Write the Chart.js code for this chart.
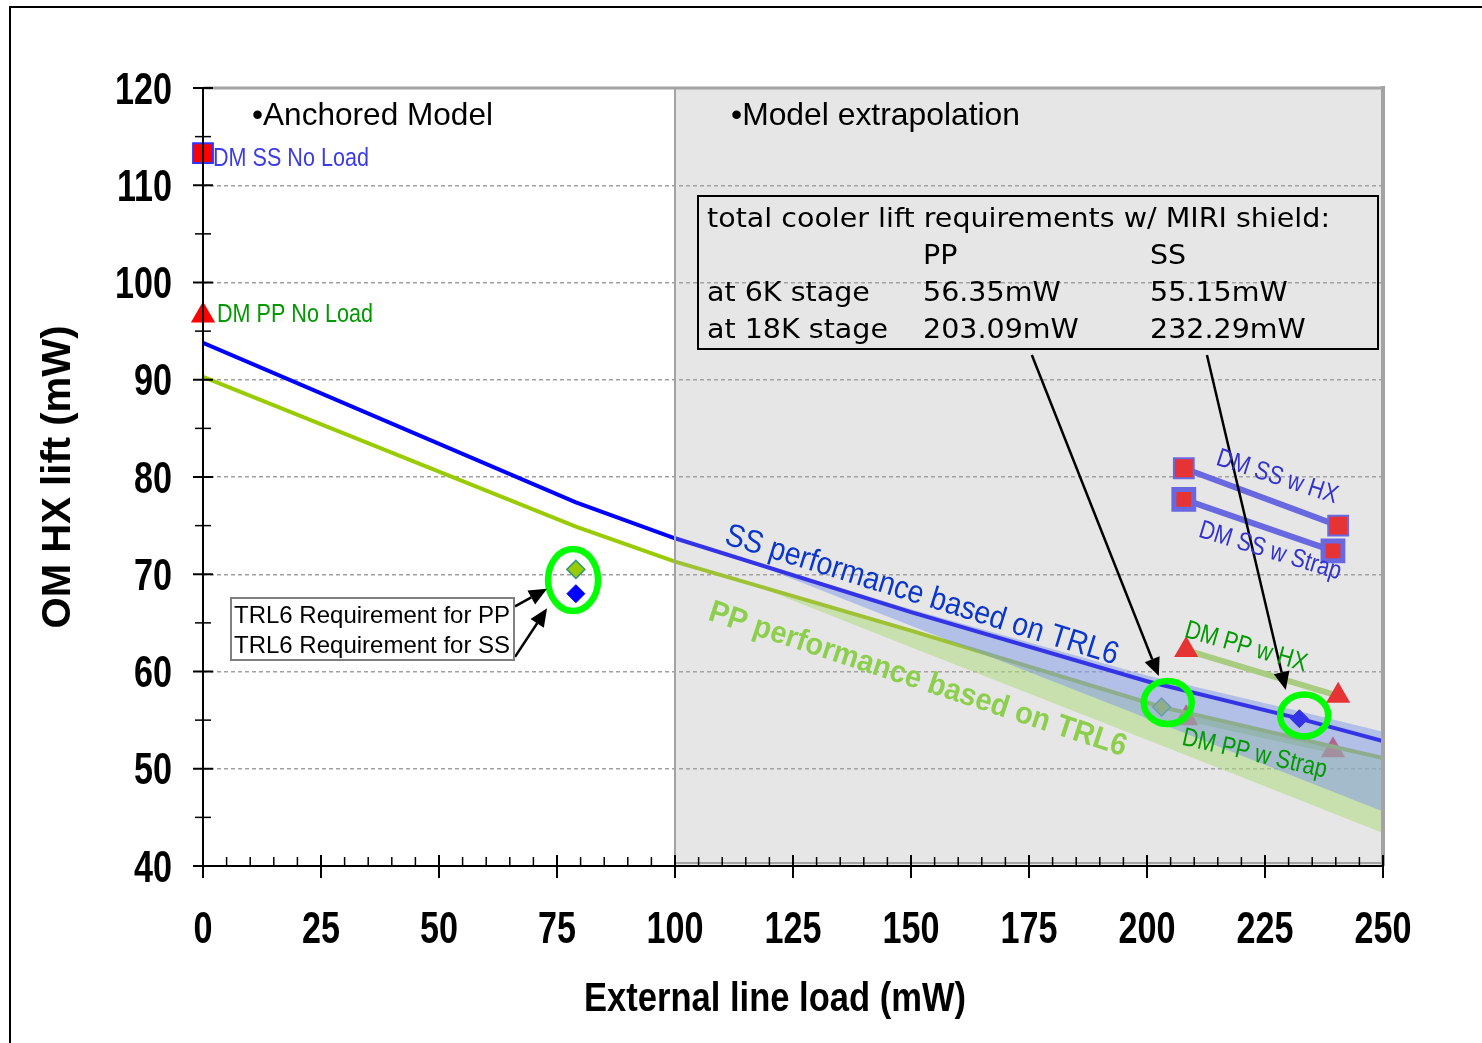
<!DOCTYPE html>
<html><head><meta charset="utf-8">
<script src="https://cdn.jsdelivr.net/npm/chart.js@4.4.1/dist/chart.umd.min.js"></script>
<style>html,body{margin:0;padding:0;background:#fff;overflow:hidden}canvas{display:block}</style>
</head><body>
<canvas id="c" width="1482" height="1043"></canvas>
<script>
// ---------- data ----------
const xTickLabels = ['0','25','50','75','100','125','150','175','200','225','250'];
const yTickLabels = ['40','50','60','70','80','90','100','110','120'];

const ssModelX = [0, 79, 100, 150, 200, 232.29, 250];
const ssModelY = [93.8, 77.4, 73.7, 66.1, 59.0, 55.15, 52.85];
const ppModelX = [0, 79, 100, 150, 203.09, 250];
const ppModelY = [90.3, 74.9, 71.3, 64.2, 56.35, 51.1];

const ssBandX = [113, 150, 200, 232.29, 250];
const ssBandUpper = [71.8, 66.4, 59.6, 55.9, 53.8];
const ssBandLower = [71.8, 64.7, 55.2, 49.0, 45.6];
const ppBandX = [114, 150, 203.09, 250];
const ppBandUpper = [69.4, 64.2, 56.35, 51.1];
const ppBandLower = [69.4, 62.5, 52.4, 43.4];

const reqPpX = [79, 203.09];
const reqPpY = [70.5, 56.35];
const reqSsX = [79, 232.29];
const reqSsY = [68.0, 55.15];

const dmSsNoLoadX = [0];
const dmSsNoLoadY = [113.3];
const dmPpNoLoadX = [0];
const dmPpNoLoadY = [96.6];

const dmSsHxX = [207.8, 240.5];
const dmSsHxY = [80.9, 75.0];
const dmSsStrapX = [207.8, 239.4];
const dmSsStrapY = [77.7, 72.4];
const dmPpHxX = [208.3, 240.5];
const dmPpHxY = [62.2, 57.5];
const dmPpStrapX = [208.3, 239.4];
const dmPpStrapY = [55.2, 51.9];

const pts = (xs, ys) => xs.map((x, i) => ({x, y: ys[i]}));

// ---------- helpers ----------
const SANS = '"Liberation Sans", Arial, sans-serif';
function fitScale(ctx, s, font, w) {
  ctx.save(); ctx.font = font; const m = ctx.measureText(s).width; ctx.restore(); return w / m;
}
function txt(ctx, s, x, y, o) {
  ctx.save();
  ctx.translate(x, y);
  if (o.rot) ctx.rotate(o.rot);
  ctx.scale(o.sx || 1, 1);
  ctx.font = o.font; ctx.fillStyle = o.color || '#000';
  ctx.textAlign = o.align || 'left'; ctx.textBaseline = o.baseline || 'alphabetic';
  ctx.fillText(s, 0, 0);
  ctx.restore();
}

const deco = {
  id: 'deco',
  afterDatasetsDraw(chart) {
    const ctx = chart.ctx, xs = chart.scales.x, ys = chart.scales.y, a = chart.chartArea;
    const X = v => xs.getPixelForValue(v), Y = v => ys.getPixelForValue(v);
    ctx.save();
    // extrapolation region overlay
    ctx.fillStyle = 'rgba(171,171,171,0.3)';
    ctx.fillRect(X(100), a.top, X(250) - X(100), a.bottom - a.top);
    ctx.strokeStyle = '#a3a3a3';
    ctx.lineWidth = 2;
    ctx.beginPath(); ctx.moveTo(X(100), a.top); ctx.lineTo(X(100), a.bottom); ctx.stroke();
    ctx.beginPath(); ctx.moveTo(X(100), a.bottom - 3); ctx.lineTo(X(250), a.bottom - 3); ctx.stroke();
    // plot border top/right
    ctx.lineWidth = 3;
    ctx.beginPath(); ctx.moveTo(a.left, a.top); ctx.lineTo(a.right, a.top); ctx.stroke();
    ctx.lineWidth = 4;
    ctx.beginPath(); ctx.moveTo(a.right, a.top - 2); ctx.lineTo(a.right, a.bottom); ctx.stroke();

    // axes
    ctx.strokeStyle = '#000';
    ctx.lineWidth = 2;
    ctx.beginPath(); ctx.moveTo(a.left, a.top); ctx.lineTo(a.left, a.bottom + 12); ctx.stroke();
    ctx.beginPath(); ctx.moveTo(a.left - 10, a.bottom); ctx.lineTo(a.right, a.bottom); ctx.stroke();
    // y ticks
    ys.ticks.forEach((t, i) => {
      const y = Y(t.value);
      ctx.lineWidth = 2;
      ctx.beginPath(); ctx.moveTo(a.left - 10, y); ctx.lineTo(a.left + 10, y); ctx.stroke();
      if (i < ys.ticks.length - 1) {
        const ym = Y(t.value + 5);
        ctx.lineWidth = 1.5;
        ctx.beginPath(); ctx.moveTo(a.left - 8, ym); ctx.lineTo(a.left + 8, ym); ctx.stroke();
      }
    });
    // x ticks
    xs.ticks.forEach((t, i) => {
      const x = X(t.value);
      ctx.lineWidth = 2;
      ctx.beginPath(); ctx.moveTo(x, a.bottom - 11); ctx.lineTo(x, a.bottom + 12); ctx.stroke();
      if (i < xs.ticks.length - 1) {
        for (let k = 1; k < 5; k++) {
          const xm = X(t.value + 5 * k);
          ctx.lineWidth = 1.5;
          ctx.beginPath(); ctx.moveTo(xm, a.bottom - 9); ctx.lineTo(xm, a.bottom); ctx.stroke();
        }
      }
    });
    // tick labels
    const tf = 'bold 44px ' + SANS;
    const tsx = fitScale(ctx, '120', tf, 57);
    ys.ticks.forEach((t, i) => txt(ctx, yTickLabels[i], a.left - 31, Y(t.value) + 15.5, {font: tf, sx: tsx, align: 'right'}));
    xs.ticks.forEach((t, i) => txt(ctx, xTickLabels[i], X(t.value), a.bottom + 77, {font: tf, sx: tsx, align: 'center'}));
    // axis titles
    const xf = 'bold 40px ' + SANS;
    txt(ctx, 'External line load (mW)', 775, 1011, {font: xf, sx: fitScale(ctx, 'External line load (mW)', xf, 382), align: 'center'});
    const yf = 'bold 40px ' + SANS;
    txt(ctx, 'OM HX lift (mW)', 70, (a.top + a.bottom) / 2, {font: yf, sx: fitScale(ctx, 'OM HX lift (mW)', yf, 303), align: 'center', rot: -Math.PI / 2});

    // outer frame
    ctx.lineWidth = 2; ctx.strokeStyle = '#000';
    ctx.beginPath(); ctx.moveTo(10, 1043); ctx.lineTo(10, 7); ctx.lineTo(1482, 7); ctx.stroke();

    // region headings
    const hf = '32px ' + SANS;
    txt(ctx, '\u2022Anchored Model', 252, 125, {font: hf, sx: fitScale(ctx, '\u2022Anchored Model', hf, 241)});
    txt(ctx, '\u2022Model extrapolation', 731, 125, {font: hf, sx: fitScale(ctx, '\u2022Model extrapolation', hf, 289)});

    // no-load labels
    const nf = '26px ' + SANS;
    const nsx = fitScale(ctx, 'DM SS No Load', nf, 156);
    txt(ctx, 'DM SS No Load', 213, 166, {font: nf, sx: nsx, color: '#3c3ce6'});
    txt(ctx, 'DM PP No Load', 217, 322, {font: nf, sx: nsx, color: '#009a00'});

    // green highlight ellipses
    ctx.strokeStyle = '#00ff00'; ctx.lineWidth = 6.5;
    [[78.4, 69.41, 25, 31], [204.4, 56.81, 24, 21.5], [233.3, 55.48, 24, 21]].forEach(e => {
      ctx.beginPath(); ctx.ellipse(X(e[0]), Y(e[1]), e[2], e[3], 0, 0, Math.PI * 2); ctx.stroke();
    });

    // arrows
    function arrow(x1, y1, x2, y2) {
      const ang = Math.atan2(y2 - y1, x2 - x1), L = 18, W = 8;
      const bx = x2 - L * Math.cos(ang), by = y2 - L * Math.sin(ang);
      ctx.strokeStyle = '#000'; ctx.fillStyle = '#000'; ctx.lineWidth = 2.5;
      ctx.beginPath(); ctx.moveTo(x1, y1); ctx.lineTo(bx, by); ctx.stroke();
      ctx.beginPath(); ctx.moveTo(x2, y2);
      ctx.lineTo(bx + W * Math.sin(ang), by - W * Math.cos(ang));
      ctx.lineTo(bx - W * Math.sin(ang), by + W * Math.cos(ang));
      ctx.closePath(); ctx.fill();
    }
    arrow(X(175.6), Y(92.55), X(202.5), Y(59.54));
    arrow(X(212.7), Y(92.55), X(229.4), Y(58.1));
    arrow(X(66.1), Y(66.7), X(72.9), Y(68.5));
    arrow(X(66.1), Y(61.5), X(72.9), Y(66.5));

    // TRL6 requirement label box
    ctx.fillStyle = '#fff'; ctx.fillRect(231, 598, 283, 62);
    ctx.strokeStyle = '#808080'; ctx.lineWidth = 2; ctx.strokeRect(231, 598, 283, 62);
    const rf = '24px ' + SANS;
    txt(ctx, 'TRL6 Requirement for PP', 234, 623, {font: rf});
    txt(ctx, 'TRL6 Requirement for SS', 234, 653, {font: rf});

    // requirements table
    ctx.strokeStyle = '#000'; ctx.lineWidth = 2; ctx.strokeRect(698, 196, 680, 153);
    const bf = '27px "DejaVu Sans", Verdana, sans-serif';
    const bsx = fitScale(ctx, 'total cooler lift requirements w/ MIRI shield:', bf, 623);
    const rowsY = [227, 264, 301, 338];
    txt(ctx, 'total cooler lift requirements w/ MIRI shield:', 707, rowsY[0], {font: bf, sx: bsx});
    txt(ctx, 'PP', 923, rowsY[1], {font: bf, sx: bsx});
    txt(ctx, 'SS', 1150, rowsY[1], {font: bf, sx: bsx});
    txt(ctx, 'at 6K stage', 707, rowsY[2], {font: bf, sx: bsx});
    txt(ctx, '56.35mW', 923, rowsY[2], {font: bf, sx: bsx});
    txt(ctx, '55.15mW', 1150, rowsY[2], {font: bf, sx: bsx});
    txt(ctx, 'at 18K stage', 707, rowsY[3], {font: bf, sx: bsx});
    txt(ctx, '203.09mW', 923, rowsY[3], {font: bf, sx: bsx});
    txt(ctx, '232.29mW', 1150, rowsY[3], {font: bf, sx: bsx});

    // rotated performance labels
    const sf = '32px ' + SANS;
    txt(ctx, 'SS performance based on TRL6', 919, 604, {font: sf, sx: fitScale(ctx, 'SS performance based on TRL6', sf, 410), align: 'center', rot: 17.2 * Math.PI / 180, color: '#0a36cc'});
    const pf = 'bold 31px ' + SANS;
    txt(ctx, 'PP performance based on TRL6', 915, 688, {font: pf, sx: fitScale(ctx, 'PP performance based on TRL6', pf, 438), align: 'center', rot: 18.2 * Math.PI / 180, color: '#8ccf4d'});

    // DM labels
    const df = '26px ' + SANS;
    const dsx = fitScale(ctx, 'DM SS No Load', df, 156);
    txt(ctx, 'DM SS w HX', 1275, 484, {font: df, sx: dsx, align: 'center', rot: 18 * Math.PI / 180, color: '#3333cc'});
    txt(ctx, 'DM SS w Strap', 1268, 558, {font: df, sx: dsx, align: 'center', rot: 17 * Math.PI / 180, color: '#3333cc'});
    txt(ctx, 'DM PP w HX', 1244, 654, {font: df, sx: dsx, align: 'center', rot: 16 * Math.PI / 180, color: '#009a00'});
    txt(ctx, 'DM PP w Strap', 1253, 761, {font: df, sx: dsx, align: 'center', rot: 13 * Math.PI / 180, color: '#009a00'});
    ctx.restore();
  }
};

const line = (xs, ys, color, width, order, extra) => Object.assign({
  data: pts(xs, ys), showLine: true, borderColor: color, borderWidth: width,
  pointRadius: 0, pointHoverRadius: 0, fill: false, order, tension: 0
}, extra || {});

const datasets = [
  // DM PP w Strap (beneath bands)
  line(dmPpStrapX, dmPpStrapY, '#a7da6e', 6, 20, {pointRadius: 14, pointStyle: 'triangle', pointBackgroundColor: '#ff0000', pointBorderColor: '#ff0000', pointBorderWidth: 0}),
  // PP band lower (invisible)
  line(ppBandX, ppBandLower, 'rgba(0,0,0,0)', 0, 19),
  // PP band upper with fill to lower
  line(ppBandX, ppBandUpper, 'rgba(0,0,0,0)', 0, 18, {fill: {target: 1}, backgroundColor: 'rgba(169,235,95,0.5)'}),
  // PP model line
  line(ppModelX, ppModelY, '#99cc00', 4, 17),
  // PP requirement diamonds
  {data: pts(reqPpX, reqPpY), pointStyle: 'rectRot', pointRadius: 9, pointBackgroundColor: '#99cc00', pointBorderColor: '#339977', pointBorderWidth: 1.5, order: 16, showLine: false},
  // SS band lower
  line(ssBandX, ssBandLower, 'rgba(0,0,0,0)', 0, 15),
  // SS band upper
  line(ssBandX, ssBandUpper, 'rgba(0,0,0,0)', 0, 14, {fill: {target: 5}, backgroundColor: 'rgba(107,143,255,0.5)'}),
  // SS model line
  line(ssModelX, ssModelY, '#0000ff', 4, 13),
  // SS requirement diamonds
  {data: pts(reqSsX, reqSsY), pointStyle: 'rectRot', pointRadius: 9, pointBackgroundColor: '#0000ff', pointBorderColor: '#0000ff', pointBorderWidth: 1, order: 12, showLine: false},
  // DM PP w HX
  line(dmPpHxX, dmPpHxY, '#a7da6e', 6, 11, {pointRadius: 14, pointStyle: 'triangle', pointBackgroundColor: '#ff0000', pointBorderColor: '#ff0000', pointBorderWidth: 0}),
  // DM SS w Strap
  line(dmSsStrapX, dmSsStrapY, '#4b4bf6', 6, 10, {pointRadius: 14, pointStyle: 'rect', pointBackgroundColor: '#ff0000', pointBorderColor: '#4b4bf6', pointBorderWidth: 5}),
  // DM SS w HX
  line(dmSsHxX, dmSsHxY, '#4b4bf6', 6, 9, {pointRadius: 14, pointStyle: 'rect', pointBackgroundColor: '#ff0000', pointBorderColor: '#4b4bf6', pointBorderWidth: 2}),
  // DM SS No Load
  {data: pts(dmSsNoLoadX, dmSsNoLoadY), pointStyle: 'rect', pointRadius: 14, pointBackgroundColor: '#ff0000', pointBorderColor: '#3333ff', pointBorderWidth: 2, order: 8, showLine: false, clip: false},
  // DM PP No Load
  {data: pts(dmPpNoLoadX, dmPpNoLoadY), pointStyle: 'triangle', pointRadius: 14, pointBackgroundColor: '#ff0000', pointBorderColor: '#ff0000', pointBorderWidth: 0, order: 7, showLine: false, clip: false}
];

new Chart(document.getElementById('c'), {
  type: 'scatter',
  data: {datasets},
  options: {
    responsive: false, animation: false, devicePixelRatio: 1,
    layout: {padding: {left: 0, top: 88, right: 99, bottom: 0}},
    plugins: {legend: {display: false}, tooltip: {enabled: false}},
    scales: {
      x: {type: 'linear', min: 0, max: 250, ticks: {stepSize: 25, display: false},
          grid: {display: false}, border: {display: false},
          afterFit(s) { s.height = 177; }},
      y: {type: 'linear', min: 40, max: 120, ticks: {stepSize: 10, display: false},
          grid: {color: '#a0a0a0', lineWidth: 1.5, drawTicks: false},
          border: {display: false, dash: [4, 3]},
          afterFit(s) { s.width = 203; }}
    }
  },
  plugins: [deco]
});
</script>
</body></html>
